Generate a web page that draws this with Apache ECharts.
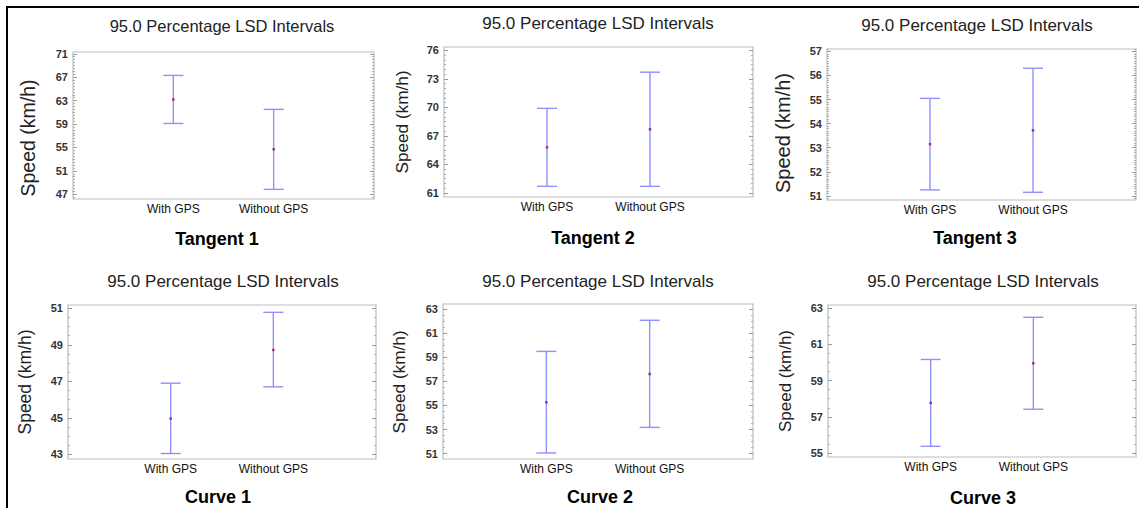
<!DOCTYPE html>
<html>
<head>
<meta charset="utf-8">
<title>95.0 Percentage LSD Intervals</title>
<script src="https://cdn.jsdelivr.net/npm/echarts@6/dist/echarts.min.js"></script>
<style>
  html, body { margin: 0; padding: 0; background: #fff; }
  #chart { width: 1139px; height: 508px; }
</style>
</head>
<body>
<div id="chart"></div>
<script>
// values, [low, mean, high] for each panel
var categories = ['With GPS', 'Without GPS']
var panelNames = ['Tangent 1', 'Tangent 2', 'Tangent 3', 'Curve 1', 'Curve 2', 'Curve 3']
var chartTitle = '95.0 Percentage LSD Intervals'
var yName = 'Speed (km/h)'

var withGps = [
  [59.1, 63.2, 67.3],
  [61.7, 65.8, 69.9],
  [51.25, 53.15, 55.05],
  [43.05, 44.96, 46.9],
  [51.06, 55.26, 59.48],
  [55.37, 57.77, 60.17]
]
var withoutGps = [
  [47.85, 54.7, 61.5],
  [61.7, 67.7, 73.7],
  [51.15, 53.72, 56.3],
  [46.7, 48.72, 50.78],
  [53.18, 57.61, 62.06],
  [57.42, 59.96, 62.5]
]

// tick labels of each y axis
var yTicks = [
  [47, 51, 55, 59, 63, 67, 71],
  [61, 64, 67, 70, 73, 76],
  [51, 52, 53, 54, 55, 56, 57],
  [43, 45, 47, 49, 51],
  [51, 53, 55, 57, 59, 61, 63],
  [55, 57, 59, 61, 63]
]
var yMinorStep = [0.5, 0.5, 0.1, 0.5, 0.5, 0.5]
var yRange = [
  [46.2, 71.3],
  [60.58, 76.35],
  [50.83, 57.1],
  [42.75, 51.18],
  [50.56, 63.41],
  [54.78, 63.18]
]

// layout of the six pictures (left, top, width, height of the plot box)
var boxes = [
  [73, 52, 301, 147],
  [444, 47, 309, 150],
  [827, 49, 309, 151],
  [68, 305, 308, 154],
  [443, 304, 310, 155],
  [828, 305, 308, 152]
]
var titlePos = [[222, 26, 16.5], [598, 23, 17], [977, 25, 17], [223, 281, 17], [598, 281, 17], [983, 281, 17]]
var subPos = [[217, 239], [593, 238], [975, 238], [218, 497], [600, 497], [983, 498]]
var yNamePos = [[28, 138, 19.5], [402, 122, 17.2], [783, 133, 20], [25, 382, 17.5], [399, 382, 17.2], [785, 381, 17]]

var FONT = '"Liberation Sans", Arial, sans-serif'
var barColor = '#9090ff'
var dotColor = '#8b1a4a'

function minorTicks(i) {
  var step = yMinorStep[i]
  var out = []
  var n0 = Math.ceil(yRange[i][0] / step - 1e-6)
  var n1 = Math.floor(yRange[i][1] / step + 1e-6)
  for (var n = n0; n <= n1; n++) {
    var v = Math.round(n * step * 1000) / 1000
    if (yTicks[i].indexOf(v) < 0) out.push(v)
  }
  return out
}

function renderBar(params, api) {
  var x = api.value(0)
  var lo = api.coord([x, api.value(1)])
  var hi = api.coord([x, api.value(2)])
  var w = 10
  var style = { stroke: barColor, lineWidth: 1.4, fill: null }
  return {
    type: 'group',
    children: [
      { type: 'line', shape: { x1: lo[0], y1: lo[1], x2: hi[0], y2: hi[1] }, style: style },
      { type: 'line', shape: { x1: lo[0] - w, y1: lo[1], x2: lo[0] + w, y2: lo[1] }, style: style },
      { type: 'line', shape: { x1: hi[0] - w, y1: hi[1], x2: hi[0] + w, y2: hi[1] }, style: style }
    ]
  }
}

var grids = []
var xAxes = []
var yAxes = []
var series = []
var graphics = []

// outer frame of the figure (only top and left edges are visible)
graphics.push({
  type: 'rect', shape: { x: 7, y: 7, width: 1150, height: 520 },
  style: { fill: null, stroke: '#000', lineWidth: 2 }, silent: true
})

for (var i = 0; i < panelNames.length; i++) {
  var b = boxes[i]
  grids.push({
    left: b[0], top: b[1], width: b[2], height: b[3],
    show: true, borderColor: '#bdbdbd', borderWidth: 1.2, backgroundColor: '#fff'
  })
  xAxes.push({
    gridIndex: i, type: 'value', min: 0, max: 3,
    axisLine: { show: false }, axisTick: { show: false }, splitLine: { show: false },
    axisLabel: {
      customValues: [1, 2],
      formatter: function (v) { return categories[v - 1] },
      margin: 4, fontSize: 12, fontFamily: FONT, color: '#111'
    }
  })
  var minors = minorTicks(i)
  var sides = ['left', 'right']
  for (var s = 0; s < 2; s++) {
    // major ticks
    yAxes.push({
      gridIndex: i, type: 'value', position: sides[s],
      min: yRange[i][0], max: yRange[i][1],
      axisLine: { show: false }, splitLine: { show: false },
      axisTick: { inside: true, length: 4, customValues: yTicks[i], lineStyle: { color: '#9a9a9a' } },
      axisLabel: {
        show: s === 0, customValues: yTicks[i], margin: 5,
        fontSize: 11, fontWeight: 'bold', fontFamily: FONT, color: '#333'
      }
    })
    // minor ticks
    yAxes.push({
      gridIndex: i, type: 'value', position: sides[s],
      min: yRange[i][0], max: yRange[i][1],
      axisLine: { show: false }, splitLine: { show: false },
      axisTick: { inside: true, length: 2, customValues: minors, lineStyle: { color: '#b0b0b0' } },
      axisLabel: { show: false }
    })
  }

  series.push({
    type: 'custom', xAxisIndex: i, yAxisIndex: i * 4,
    renderItem: renderBar, silent: true,
    data: [
      [1, withGps[i][0], withGps[i][2]],
      [2, withoutGps[i][0], withoutGps[i][2]]
    ],
    z: 3
  })
  series.push({
    type: 'scatter', xAxisIndex: i, yAxisIndex: i * 4,
    symbol: 'rect', symbolSize: 2.5, silent: true,
    itemStyle: { color: dotColor },
    data: [[1, withGps[i][1]], [2, withoutGps[i][1]]],
    z: 4
  })

  graphics.push({
    type: 'text', x: titlePos[i][0], y: titlePos[i][1], silent: true,
    style: { text: chartTitle, font: titlePos[i][2] + 'px ' + FONT, fill: '#222', align: 'center', verticalAlign: 'middle' }
  })
  graphics.push({
    type: 'text', x: subPos[i][0], y: subPos[i][1], silent: true,
    style: { text: panelNames[i], font: 'bold 18px ' + FONT, fill: '#000', align: 'center', verticalAlign: 'middle' }
  })
  graphics.push({
    type: 'text', x: yNamePos[i][0], y: yNamePos[i][1], rotation: Math.PI / 2, silent: true,
    style: { text: yName, font: yNamePos[i][2] + 'px ' + FONT, fill: '#222', align: 'center', verticalAlign: 'middle' }
  })
}

var chart = echarts.init(document.getElementById('chart'), null, { renderer: 'svg' })
chart.setOption({
  animation: false,
  backgroundColor: '#fff',
  grid: grids,
  xAxis: xAxes,
  yAxis: yAxes,
  series: series,
  graphic: graphics
})
</script>
</body>
</html>
